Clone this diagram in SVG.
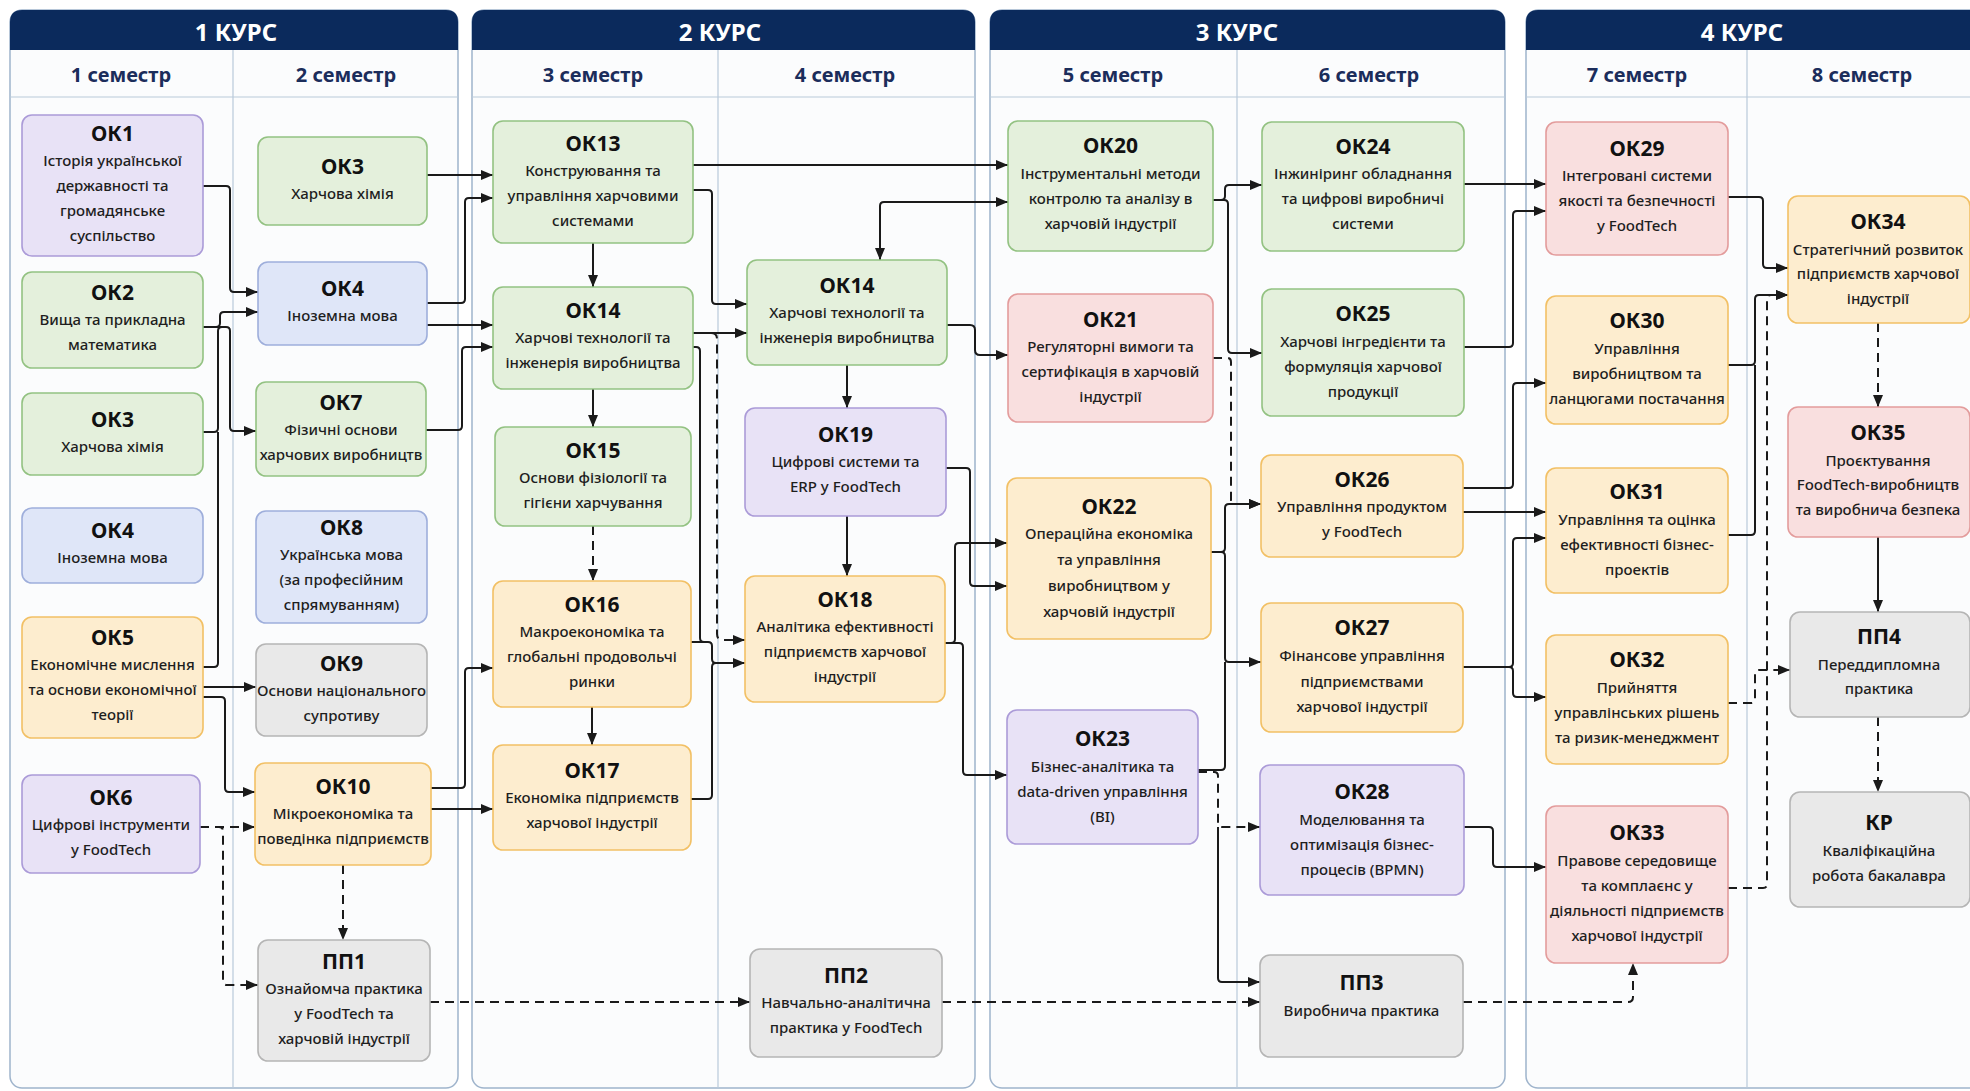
<svg xmlns="http://www.w3.org/2000/svg" width="1970" height="1091" viewBox="0 0 1970 1091">
<defs>
<marker id="ah" viewBox="0 0 12 10" refX="12" refY="5" markerWidth="12" markerHeight="10" markerUnits="userSpaceOnUse" orient="auto-start-reverse"><path d="M0,0 L12,5 L0,10 z" fill="#1a1a1a"/></marker>
<style>
.panel{fill:#fbfcfd;stroke:#9fb4cc;stroke-width:1.5}
.band{fill:#0b2a5c}
.hdr{fill:#ffffff}
.sep{stroke:#b9c9da;stroke-width:1.2}
.course{font-family:"Noto Sans","Liberation Sans",sans-serif;font-weight:bold;font-size:24px;fill:#ffffff;text-anchor:middle;dominant-baseline:central}
.sem{font-family:"Noto Sans","Liberation Sans",sans-serif;font-weight:bold;font-size:20px;fill:#1b2d5b;text-anchor:middle;dominant-baseline:central}
.node rect{stroke-width:1.6}
.g rect{fill:#e4f0dc;stroke:#93c282}
.p rect{fill:#e8e2f6;stroke:#ab9bd8}
.b rect{fill:#dfe6f8;stroke:#9eaedb}
.y rect{fill:#fdedcf;stroke:#f2c065}
.r rect{fill:#f9dfdf;stroke:#e39c9c}
.s rect{fill:#e9e9e9;stroke:#b5b5b5}
.t{font-family:"Noto Sans","Liberation Sans",sans-serif;font-weight:bold;font-size:21px;fill:#111;text-anchor:middle;dominant-baseline:central}
.l{font-family:"Noto Sans","Liberation Sans",sans-serif;font-weight:500;font-size:15px;fill:#1e1e1e;text-anchor:middle;dominant-baseline:central}
.c{fill:none;stroke:#1a1a1a;stroke-width:2;marker-end:url(#ah)}
.cn{fill:none;stroke:#1a1a1a;stroke-width:2}
.d{stroke-dasharray:9 6}
</style>
</defs>
<rect x="0" y="0" width="1970" height="1091" fill="#ffffff"/>

<g id="panels">
<g id="course1">
<rect class="panel" x="10" y="10" width="448" height="1078" rx="12"/>
<path class="band" d="M10,50 V22 Q10,10 22,10 H446 Q458,10 458,22 V50 Z"/>
<line class="sep" x1="10" y1="97" x2="458" y2="97"/>
<line class="sep" x1="233" y1="50" x2="233" y2="1088"/>
<text class="course" x="236" y="31">1 КУРС</text>
<text class="sem" x="121" y="74">1 семестр</text>
<text class="sem" x="346" y="74">2 семестр</text>
</g>
<g id="course2">
<rect class="panel" x="472" y="10" width="503" height="1078" rx="12"/>
<path class="band" d="M472,50 V22 Q472,10 484,10 H963 Q975,10 975,22 V50 Z"/>
<line class="sep" x1="472" y1="97" x2="975" y2="97"/>
<line class="sep" x1="718" y1="50" x2="718" y2="1088"/>
<text class="course" x="720" y="31">2 КУРС</text>
<text class="sem" x="593" y="74">3 семестр</text>
<text class="sem" x="845" y="74">4 семестр</text>
</g>
<g id="course3">
<rect class="panel" x="990" y="10" width="515" height="1078" rx="12"/>
<path class="band" d="M990,50 V22 Q990,10 1002,10 H1493 Q1505,10 1505,22 V50 Z"/>
<line class="sep" x1="990" y1="97" x2="1505" y2="97"/>
<line class="sep" x1="1237" y1="50" x2="1237" y2="1088"/>
<text class="course" x="1237" y="31">3 КУРС</text>
<text class="sem" x="1113" y="74">5 семестр</text>
<text class="sem" x="1369" y="74">6 семестр</text>
</g>
<g id="course4">
<rect class="panel" x="1526" y="10" width="470" height="1078" rx="12"/>
<path class="band" d="M1526,50 V22 Q1526,10 1538,10 H1984 Q1996,10 1996,22 V50 Z"/>
<line class="sep" x1="1526" y1="97" x2="1996" y2="97"/>
<line class="sep" x1="1747" y1="50" x2="1747" y2="1088"/>
<text class="course" x="1742" y="31">4 КУРС</text>
<text class="sem" x="1637" y="74">7 семестр</text>
<text class="sem" x="1862" y="74">8 семестр</text>
</g>
</g>

<g id="connectors">
<path class="c" d="M203,186 H226 Q230,186 230,190 V288 Q230,292 234,292 H258"/>
<path class="c" d="M203,327 H216 Q220,327 220,323 V316 Q220,312 224,312 H258"/>
<path class="c" d="M203,327 H226 Q230,327 230,331 V427 Q230,431 234,431 H256"/>
<path class="cn" d="M203,432 H214 Q218,432 218,428 V331 Q218,327 222,327"/>
<path class="cn" d="M203,667 H214 Q218,667 218,663 V432"/>
<path class="c" d="M203,687 H256"/>
<path class="c" d="M203,697 H221 Q225,697 225,701 V788 Q225,792 229,792 H255"/>
<path class="c d" d="M200,827 H255"/>
<path class="c d" d="M200,827 H219 Q223,827 223,831 V981 Q223,985 227,985 H258"/>
<path class="c" d="M427,175 H493"/>
<path class="c" d="M427,303 H461 Q465,303 465,299 V202 Q465,198 469,198 H493"/>
<path class="c" d="M427,325 H493"/>
<path class="c" d="M426,430 H458 Q462,430 462,426 V351 Q462,347 466,347 H493"/>
<path class="c" d="M431,788 H461 Q465,788 465,784 V672 Q465,668 469,668 H493"/>
<path class="c" d="M431,809 H493"/>
<path class="c d" d="M343,865 V940"/>
<path class="c" d="M593,243 V287"/>
<path class="c" d="M693,165 H1008"/>
<path class="c" d="M693,190 H708 Q712,190 712,194 V300 Q712,304 716,304 H747"/>
<path class="c" style="marker-start:url(#ah)" d="M880,260 V206 Q880,202 884,202 H1008"/>
<path class="c" d="M693,333 H747"/>
<path class="c d" d="M711,333 Q717,333 717,339 V634 Q717,640 723,640 H745"/>
<path class="cn" d="M693,347 H696 Q700,347 700,351 V638 Q700,642 704,642"/>
<path class="c" d="M691,642 H708 Q712,642 712,646 V659 Q712,663 716,663 H745"/>
<path class="cn" d="M691,799 H708 Q712,799 712,795 V667 Q712,663 716,663"/>
<path class="c" d="M593,389 V427"/>
<path class="c d" d="M593,526 V581"/>
<path class="c" d="M592,707 V745"/>
<path class="c d" d="M430,1002 H750"/>
<path class="c d" d="M942,1002 H1260"/>
<path class="c d" d="M1463,1002 H1628 Q1633,1002 1633,997 V963"/>
<path class="c" d="M847,365 V408"/>
<path class="c" d="M847,516 V576"/>
<path class="c" d="M947,325 H970 Q975,325 975,330 V350 Q975,355 980,355 H1008"/>
<path class="c" d="M946,468 H966 Q970,468 970,472 V582 Q970,586 974,586 H1007"/>
<path class="c" d="M945,643 H951 Q955,643 955,639 V547 Q955,543 959,543 H1007"/>
<path class="c" d="M945,643 H959 Q963,643 963,647 V771 Q963,775 967,775 H1007"/>
<path class="c" d="M1213,200 H1221 Q1225,200 1225,196 V189 Q1225,185 1229,185 H1262"/>
<path class="c" d="M1213,200 H1224 Q1228,200 1228,204 V349 Q1228,353 1232,353 H1262"/>
<path class="c d" d="M1213,358 H1227 Q1231,358 1231,362 V500 Q1231,504 1235,504 H1261"/>
<path class="c" d="M1211,552 H1221 Q1225,552 1225,548 V508 Q1225,504 1229,504 H1261"/>
<path class="c" d="M1211,552 H1221 Q1225,552 1225,556 V658 Q1225,662 1229,662 H1261"/>
<path class="cn" d="M1198,770 H1221 Q1225,770 1225,766 V662"/>
<path class="c d" d="M1198,772 H1214 Q1218,772 1218,776 V823 Q1218,827 1222,827 H1260"/>
<path class="c" d="M1218,827 V978 Q1218,982 1222,982 H1260"/>
<path class="c" d="M1464,184 H1546"/>
<path class="c" d="M1464,347 H1509 Q1513,347 1513,343 V215 Q1513,211 1517,211 H1546"/>
<path class="c" d="M1463,488 H1509 Q1513,488 1513,484 V387 Q1513,383 1517,383 H1546"/>
<path class="c" d="M1463,512 H1546"/>
<path class="c" d="M1463,667 H1509 Q1513,667 1513,663 V542 Q1513,538 1517,538 H1546"/>
<path class="c" d="M1463,667 H1509 Q1513,667 1513,671 V693 Q1513,697 1517,697 H1546"/>
<path class="c" d="M1464,827 H1489 Q1493,827 1493,831 V863 Q1493,867 1497,867 H1546"/>
<path class="c" d="M1728,197 H1759 Q1763,197 1763,201 V264 Q1763,268 1767,268 H1788"/>
<path class="c" d="M1728,365 H1751 Q1755,365 1755,361 V299 Q1755,295 1759,295 H1788"/>
<path class="cn" d="M1728,535 H1751 Q1755,535 1755,531 V365"/>
<path class="c d" d="M1728,888 H1763 Q1767,888 1767,884 V299 Q1767,295 1771,295 H1788"/>
<path class="c d" d="M1728,703 H1751 Q1755,703 1755,699 V674 Q1755,670 1759,670 H1790"/>
<path class="c d" d="M1878,323 V407"/>
<path class="c" d="M1878,537 V612"/>
<path class="c d" d="M1878,717 V792"/>
</g>

<g id="ok1" class="node p"><rect x="22" y="115" width="181" height="141" rx="10"/><text class="t" x="112.5" y="132.5">ОК1</text><text class="l" x="112.5" y="159.5">Історія української</text><text class="l" x="112.5" y="184.5">державності та</text><text class="l" x="112.5" y="209.5">громадянське</text><text class="l" x="112.5" y="234.5">суспільство</text></g>
<g id="ok2" class="node g"><rect x="22" y="272" width="181" height="96" rx="10"/><text class="t" x="112.5" y="292">ОК2</text><text class="l" x="112.5" y="319">Вища та прикладна</text><text class="l" x="112.5" y="344">математика</text></g>
<g id="ok3-s1" class="node g"><rect x="22" y="393" width="181" height="82" rx="10"/><text class="t" x="112.5" y="418.5">ОК3</text><text class="l" x="112.5" y="445.5">Харчова хімія</text></g>
<g id="ok4-s1" class="node b"><rect x="22" y="508" width="181" height="75" rx="10"/><text class="t" x="112.5" y="530">ОК4</text><text class="l" x="112.5" y="557">Іноземна мова</text></g>
<g id="ok5" class="node y"><rect x="22" y="617" width="181" height="121" rx="10"/><text class="t" x="112.5" y="637">ОК5</text><text class="l" x="112.5" y="664">Економічне мислення</text><text class="l" x="112.5" y="689">та основи економічної</text><text class="l" x="112.5" y="714">теорії</text></g>
<g id="ok6" class="node p"><rect x="22" y="775" width="178" height="98" rx="10"/><text class="t" x="111" y="797">ОК6</text><text class="l" x="111" y="824">Цифрові інструменти</text><text class="l" x="111" y="849">у FoodTech</text></g>

<g id="ok3-s2" class="node g"><rect x="258" y="137" width="169" height="88" rx="10"/><text class="t" x="342.5" y="165.5">ОК3</text><text class="l" x="342.5" y="192.5">Харчова хімія</text></g>
<g id="ok4-s2" class="node b"><rect x="258" y="262" width="169" height="83" rx="10"/><text class="t" x="342.5" y="288">ОК4</text><text class="l" x="342.5" y="315">Іноземна мова</text></g>
<g id="ok7" class="node g"><rect x="256" y="382" width="170" height="94" rx="10"/><text class="t" x="341" y="402">ОК7</text><text class="l" x="341" y="429">Фізичні основи</text><text class="l" x="341" y="454">харчових виробництв</text></g>
<g id="ok8" class="node b"><rect x="256" y="511" width="171" height="112" rx="10"/><text class="t" x="341.5" y="526.5">ОК8</text><text class="l" x="341.5" y="553.5">Українська мова</text><text class="l" x="341.5" y="578.5">(за професійним</text><text class="l" x="341.5" y="603.5">спрямуванням)</text></g>
<g id="ok9" class="node s"><rect x="256" y="644" width="171" height="92" rx="10"/><text class="t" x="341.5" y="663">ОК9</text><text class="l" x="341.5" y="690">Основи національного</text><text class="l" x="341.5" y="715">супротиву</text></g>
<g id="ok10" class="node y"><rect x="255" y="763" width="176" height="102" rx="10"/><text class="t" x="343" y="786">ОК10</text><text class="l" x="343" y="813">Мікроекономіка та</text><text class="l" x="343" y="838">поведінка підприємств</text></g>
<g id="pp1" class="node s"><rect x="258" y="940" width="172" height="121" rx="10"/><text class="t" x="344" y="961">ПП1</text><text class="l" x="344" y="988">Ознайомча практика</text><text class="l" x="344" y="1013">у FoodTech та</text><text class="l" x="344" y="1038">харчовій індустрії</text></g>

<g id="ok13" class="node g"><rect x="493" y="121" width="200" height="122" rx="10"/><text class="t" x="593" y="142.5">ОК13</text><text class="l" x="593" y="170">Конструювання та</text><text class="l" x="593" y="195">управління харчовими</text><text class="l" x="593" y="220">системами</text></g>
<g id="ok14-s3" class="node g"><rect x="493" y="287" width="200" height="102" rx="10"/><text class="t" x="593" y="310">ОК14</text><text class="l" x="593" y="337">Харчові технології та</text><text class="l" x="593" y="362">інженерія виробництва</text></g>
<g id="ok15" class="node g"><rect x="495" y="427" width="196" height="99" rx="10"/><text class="t" x="593" y="449.5">ОК15</text><text class="l" x="593" y="476.5">Основи фізіології та</text><text class="l" x="593" y="501.5">гігієни харчування</text></g>
<g id="ok16" class="node y"><rect x="493" y="581" width="198" height="126" rx="10"/><text class="t" x="592" y="604">ОК16</text><text class="l" x="592" y="631">Макроекономіка та</text><text class="l" x="592" y="656">глобальні продовольчі</text><text class="l" x="592" y="681">ринки</text></g>
<g id="ok17" class="node y"><rect x="493" y="745" width="198" height="105" rx="10"/><text class="t" x="592" y="769.5">ОК17</text><text class="l" x="592" y="796.5">Економіка підприємств</text><text class="l" x="592" y="821.5">харчової індустрії</text></g>

<g id="ok14-s4" class="node g"><rect x="747" y="260" width="200" height="105" rx="10"/><text class="t" x="847" y="284.5">ОК14</text><text class="l" x="847" y="311.5">Харчові технології та</text><text class="l" x="847" y="336.5">інженерія виробництва</text></g>
<g id="ok19" class="node p"><rect x="745" y="408" width="201" height="108" rx="10"/><text class="t" x="845.5" y="434">ОК19</text><text class="l" x="845.5" y="461">Цифрові системи та</text><text class="l" x="845.5" y="486">ERP у FoodTech</text></g>
<g id="ok18" class="node y"><rect x="745" y="576" width="200" height="126" rx="10"/><text class="t" x="845" y="599">ОК18</text><text class="l" x="845" y="626">Аналітика ефективності</text><text class="l" x="845" y="651">підприємств харчової</text><text class="l" x="845" y="676">індустрії</text></g>
<g id="pp2" class="node s"><rect x="750" y="949" width="192" height="108" rx="10"/><text class="t" x="846" y="975">ПП2</text><text class="l" x="846" y="1002">Навчально-аналітична</text><text class="l" x="846" y="1027">практика у FoodTech</text></g>

<g id="ok20" class="node g"><rect x="1008" y="121" width="205" height="130" rx="10"/><text class="t" x="1110.5" y="145">ОК20</text><text class="l" x="1110.5" y="172.5">Інструментальні методи</text><text class="l" x="1110.5" y="197.5">контролю та аналізу в</text><text class="l" x="1110.5" y="222.5">харчовій індустрії</text></g>
<g id="ok21" class="node r"><rect x="1008" y="294" width="205" height="128" rx="10"/><text class="t" x="1110.5" y="319">ОК21</text><text class="l" x="1110.5" y="346">Регуляторні вимоги та</text><text class="l" x="1110.5" y="371">сертифікація в харчовій</text><text class="l" x="1110.5" y="396">індустрії</text></g>
<g id="ok22" class="node y"><rect x="1007" y="478" width="204" height="161" rx="10"/><text class="t" x="1109" y="505.5">ОК22</text><text class="l" x="1109" y="533">Операційна економіка</text><text class="l" x="1109" y="559">та управління</text><text class="l" x="1109" y="585">виробництвом у</text><text class="l" x="1109" y="611">харчовій індустрії</text></g>
<g id="ok23" class="node p"><rect x="1007" y="710" width="191" height="134" rx="10"/><text class="t" x="1102.5" y="738">ОК23</text><text class="l" x="1102.5" y="765.5">Бізнес-аналітика та</text><text class="l" x="1102.5" y="790.5">data-driven управління</text><text class="l" x="1102.5" y="815.5">(BI)</text></g>

<g id="ok24" class="node g"><rect x="1262" y="122" width="202" height="129" rx="10"/><text class="t" x="1363" y="146">ОК24</text><text class="l" x="1363" y="173">Інжиніринг обладнання</text><text class="l" x="1363" y="198">та цифрові виробничі</text><text class="l" x="1363" y="223">системи</text></g>
<g id="ok25" class="node g"><rect x="1262" y="289" width="202" height="127" rx="10"/><text class="t" x="1363" y="313">ОК25</text><text class="l" x="1363" y="341">Харчові інгредієнти та</text><text class="l" x="1363" y="366">формуляція харчової</text><text class="l" x="1363" y="391">продукції</text></g>
<g id="ok26" class="node y"><rect x="1261" y="455" width="202" height="102" rx="10"/><text class="t" x="1362" y="479">ОК26</text><text class="l" x="1362" y="506">Управління продуктом</text><text class="l" x="1362" y="531">у FoodTech</text></g>
<g id="ok27" class="node y"><rect x="1261" y="603" width="202" height="129" rx="10"/><text class="t" x="1362" y="627">ОК27</text><text class="l" x="1362" y="655">Фінансове управління</text><text class="l" x="1362" y="680.5">підприємствами</text><text class="l" x="1362" y="706">харчової індустрії</text></g>
<g id="ok28" class="node p"><rect x="1260" y="765" width="204" height="130" rx="10"/><text class="t" x="1362" y="791">ОК28</text><text class="l" x="1362" y="818.5">Моделювання та</text><text class="l" x="1362" y="843.5">оптимізація бізнес-</text><text class="l" x="1362" y="868.5">процесів (BPMN)</text></g>
<g id="pp3" class="node s"><rect x="1260" y="955" width="203" height="102" rx="10"/><text class="t" x="1361.5" y="982">ПП3</text><text class="l" x="1361.5" y="1010">Виробнича практика</text></g>

<g id="ok29" class="node r"><rect x="1546" y="122" width="182" height="133" rx="10"/><text class="t" x="1637" y="147.5">ОК29</text><text class="l" x="1637" y="175">Інтегровані системи</text><text class="l" x="1637" y="200">якості та безпечності</text><text class="l" x="1637" y="225">у FoodTech</text></g>
<g id="ok30" class="node y"><rect x="1546" y="296" width="182" height="128" rx="10"/><text class="t" x="1637" y="320">ОК30</text><text class="l" x="1637" y="347.5">Управління</text><text class="l" x="1637" y="372.5">виробництвом та</text><text class="l" x="1637" y="397.5">ланцюгами постачання</text></g>
<g id="ok31" class="node y"><rect x="1546" y="468" width="182" height="125" rx="10"/><text class="t" x="1637" y="491">ОК31</text><text class="l" x="1637" y="519">Управління та оцінка</text><text class="l" x="1637" y="544">ефективності бізнес-</text><text class="l" x="1637" y="569">проектів</text></g>
<g id="ok32" class="node y"><rect x="1546" y="635" width="182" height="129" rx="10"/><text class="t" x="1637" y="659">ОК32</text><text class="l" x="1637" y="687">Прийняття</text><text class="l" x="1637" y="712">управлінських рішень</text><text class="l" x="1637" y="737">та ризик-менеджмент</text></g>
<g id="ok33" class="node r"><rect x="1546" y="806" width="182" height="157" rx="10"/><text class="t" x="1637" y="832">ОК33</text><text class="l" x="1637" y="859.5">Правове середовище</text><text class="l" x="1637" y="884.5">та комплаєнс у</text><text class="l" x="1637" y="909.5">діяльності підприємств</text><text class="l" x="1637" y="934.5">харчової індустрії</text></g>

<g id="ok34" class="node y"><rect x="1788" y="196" width="182" height="127" rx="10"/><text class="t" x="1878" y="221">ОК34</text><text class="l" x="1878" y="248.5">Стратегічний розвиток</text><text class="l" x="1878" y="273">підприємств харчової</text><text class="l" x="1878" y="297.5">індустрії</text></g>
<g id="ok35" class="node r"><rect x="1788" y="407" width="182" height="130" rx="10"/><text class="t" x="1878" y="432">ОК35</text><text class="l" x="1878" y="459.5">Проєктування</text><text class="l" x="1878" y="484">FoodTech-виробництв</text><text class="l" x="1878" y="508.5">та виробнича безпека</text></g>
<g id="pp4" class="node s"><rect x="1790" y="612" width="180" height="105" rx="10"/><text class="t" x="1879" y="636">ПП4</text><text class="l" x="1879" y="663.5">Переддипломна</text><text class="l" x="1879" y="688">практика</text></g>
<g id="kr" class="node s"><rect x="1790" y="792" width="180" height="115" rx="10"/><text class="t" x="1879" y="822">КР</text><text class="l" x="1879" y="849.5">Кваліфікаційна</text><text class="l" x="1879" y="874.5">робота бакалавра</text></g>
</svg>
